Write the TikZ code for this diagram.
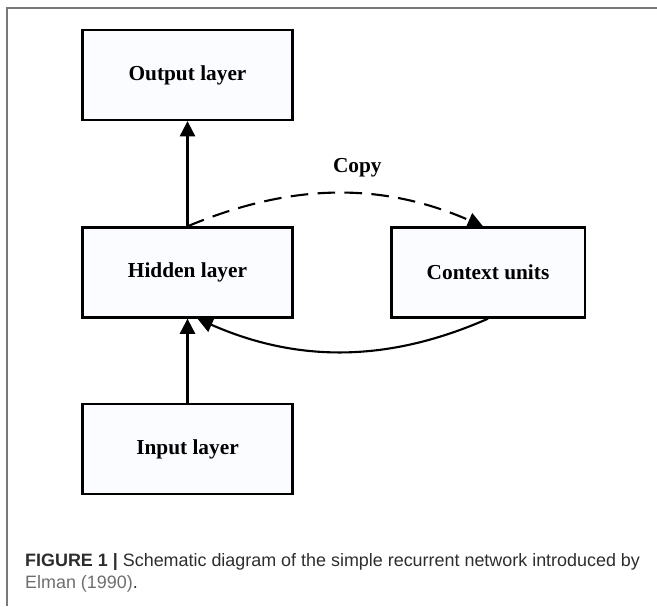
\documentclass[tikz,border=0pt]{standalone}
\usepackage{fontspec}
\setmainfont{Liberation Serif}
\newfontfamily\capsans{Liberation Sans}
\usepackage{xcolor}
\usepackage{tikz}
\usetikzlibrary{arrows.meta, positioning, calc}
\definecolor{mydark}{RGB}{0,0,0}
\definecolor{boxfill}{RGB}{250,252,255}
\definecolor{framegray}{RGB}{120,120,120}
\definecolor{captext}{RGB}{45,45,45}
\definecolor{caplink}{RGB}{110,110,110}
\tikzset{
  layer/.style={rectangle, draw=mydark, fill=boxfill,
    minimum width=6.3cm, minimum height=2.7cm,
    font=\fontsize{18.2}{20}\selectfont\bfseries, line width=2pt},
  ctxlayer/.style={layer, minimum width=5.8cm},
  arrow/.style={-{Triangle[length=13pt, width=13pt]}, line width=1.8pt, color=mydark},
  dasharrow/.style={arrow, dash pattern=on 15pt off 8pt},
  caption/.style={anchor=base west, inner sep=0pt,
    font=\capsans\fontsize{15.3}{18}\selectfont, text=captext}
}

\begin{document}
\begin{tikzpicture}[x=0.03cm, y=0.03cm]
  \useasboundingbox (0,0) rectangle (657,606);
  % frame
  \draw[framegray, line width=1.1pt] (7,0) |- (657,598);

  % layers
  \node[layer] (out) at (187.5,531) {Output layer};
  \node[layer] (hid) at (187.5,333.5) {Hidden layer};
  \node[ctxlayer] (ctx) at (488,333.5) {Context units};
  \node[layer] (inp) at (187.5,157) {Input layer};

  % feed-forward
  \draw[arrow] (inp.north) -- (hid.south);
  \draw[arrow] (hid.north) -- (out.south);

  % copy and feedback
  \draw[dasharrow] (hid.north) .. controls +(105,44) and +(-100,44) .. ([xshift=-0.15cm]ctx.north)
    node[pos=0.57, above=10pt, font=\fontsize{18.2}{20}\selectfont\bfseries] (copy) {Copy};
  \draw[arrow] (ctx.south) .. controls +(-100,-44) and +(100,-44) .. ([xshift=0.3cm]hid.south);

  % caption
  \node[caption] (cap1) at (25,40) {\textbf{FIGURE 1 |} Schematic diagram of the simple recurrent network introduced by};
  \node[caption, text=caplink] (cap2) at (25,18) {Elman (1990)\textcolor{captext}{.}};
\end{tikzpicture}
\end{document}
